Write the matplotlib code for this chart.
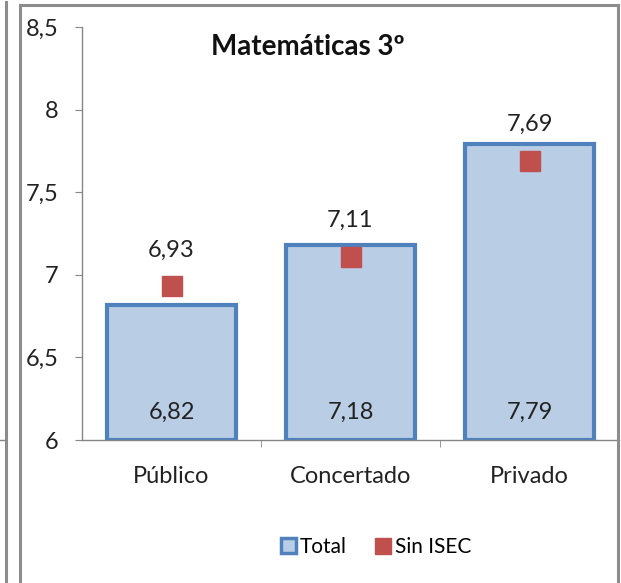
import matplotlib
matplotlib.use("Agg")
import matplotlib.pyplot as plt
from matplotlib.patches import Rectangle, Patch
from matplotlib.lines import Line2D

plt.rcParams['font.family'] = ['Lato', 'DejaVu Sans']

categories = ["Público", "Concertado", "Privado"]
total = [6.82, 7.18, 7.79]
sin_isec = [6.93, 7.11, 7.69]
yticks = [6, 6.5, 7, 7.5, 8, 8.5]
ytick_labels = ["6", "6,5", "7", "7,5", "8", "8,5"]

W, H = 621, 583
fig = plt.figure(figsize=(W / 100, H / 100), dpi=100)
ax = fig.add_axes([82 / W, 1 - 440 / H, 537 / W, 413 / H])

x = range(len(categories))
ax.bar(x, [t - 6 for t in total], bottom=6, width=0.72,
       color="#B9CDE5", edgecolor="#4F81BD", linewidth=3)
ax.plot(x, sin_isec, linestyle="none", marker="s", markersize=14,
        color="#C0504D")

for i, (t, s) in enumerate(zip(total, sin_isec)):
    ax.annotate(f"{t:.2f}".replace(".", ","), (i, 6), xytext=(0, 20),
                textcoords="offset points", ha="center", va="center",
                fontsize=17, color="#222222")
    ax.annotate(f"{s:.2f}".replace(".", ","), (i, s), xytext=(0, 26),
                textcoords="offset points", ha="center", va="center",
                fontsize=17, color="#222222")

ax.set_xlim(-0.5, 2.5)
ax.set_ylim(6, 8.5)
ax.set_yticks(yticks)
ax.set_yticklabels(ytick_labels)
ax.set_xticks(list(x))
ax.set_xticklabels(categories)
ax.set_xticks([0.5, 1.5], minor=True)
ax.tick_params(axis="x", which="major", length=0, pad=19, labelsize=17,
               labelcolor="#222222")
ax.tick_params(axis="x", which="minor", length=5, color="#868686")
ax.tick_params(axis="y", length=5, pad=12, labelsize=17, color="#868686",
               labelcolor="#222222")
for side in ("top", "right"):
    ax.spines[side].set_visible(False)
for side in ("left", "bottom"):
    ax.spines[side].set_color("#868686")
    ax.spines[side].set_linewidth(1)

fig.text(308 / W, 1 - 47 / H, "Matemáticas 3º", ha="center", va="center",
         fontsize=20, fontweight="bold", color="#111111")

handles = [Patch(facecolor="#B9CDE5", edgecolor="#4F81BD", linewidth=2.5),
           Line2D([], [], linestyle="none", marker="s", markersize=11,
                  color="#C0504D")]
fig.legend(handles, ["Total", "Sin ISEC"], loc="center",
           bbox_to_anchor=(376 / W, 1 - 547 / H), ncol=2, frameon=False,
           fontsize=15, handlelength=0.7, handletextpad=0.2, columnspacing=1.4)

# chart frame and the edge of the neighbouring chart
fig.patches.append(Rectangle((20 / W, -0.05), 598 / W, 1.05 - 5 / H,
                             transform=fig.transFigure, fill=False,
                             edgecolor="#8C8C8C", linewidth=2.2))
fig.add_artist(Line2D([6 / W, 6 / W], [0, 1 - 2 / H], transform=fig.transFigure,
                      color="#8C8C8C", linewidth=2.2))
fig.add_artist(Line2D([0, 5 / W], [1 - 440 / H, 1 - 440 / H],
                      transform=fig.transFigure, color="#868686", linewidth=1))

fig.savefig("out.png", dpi=100)
